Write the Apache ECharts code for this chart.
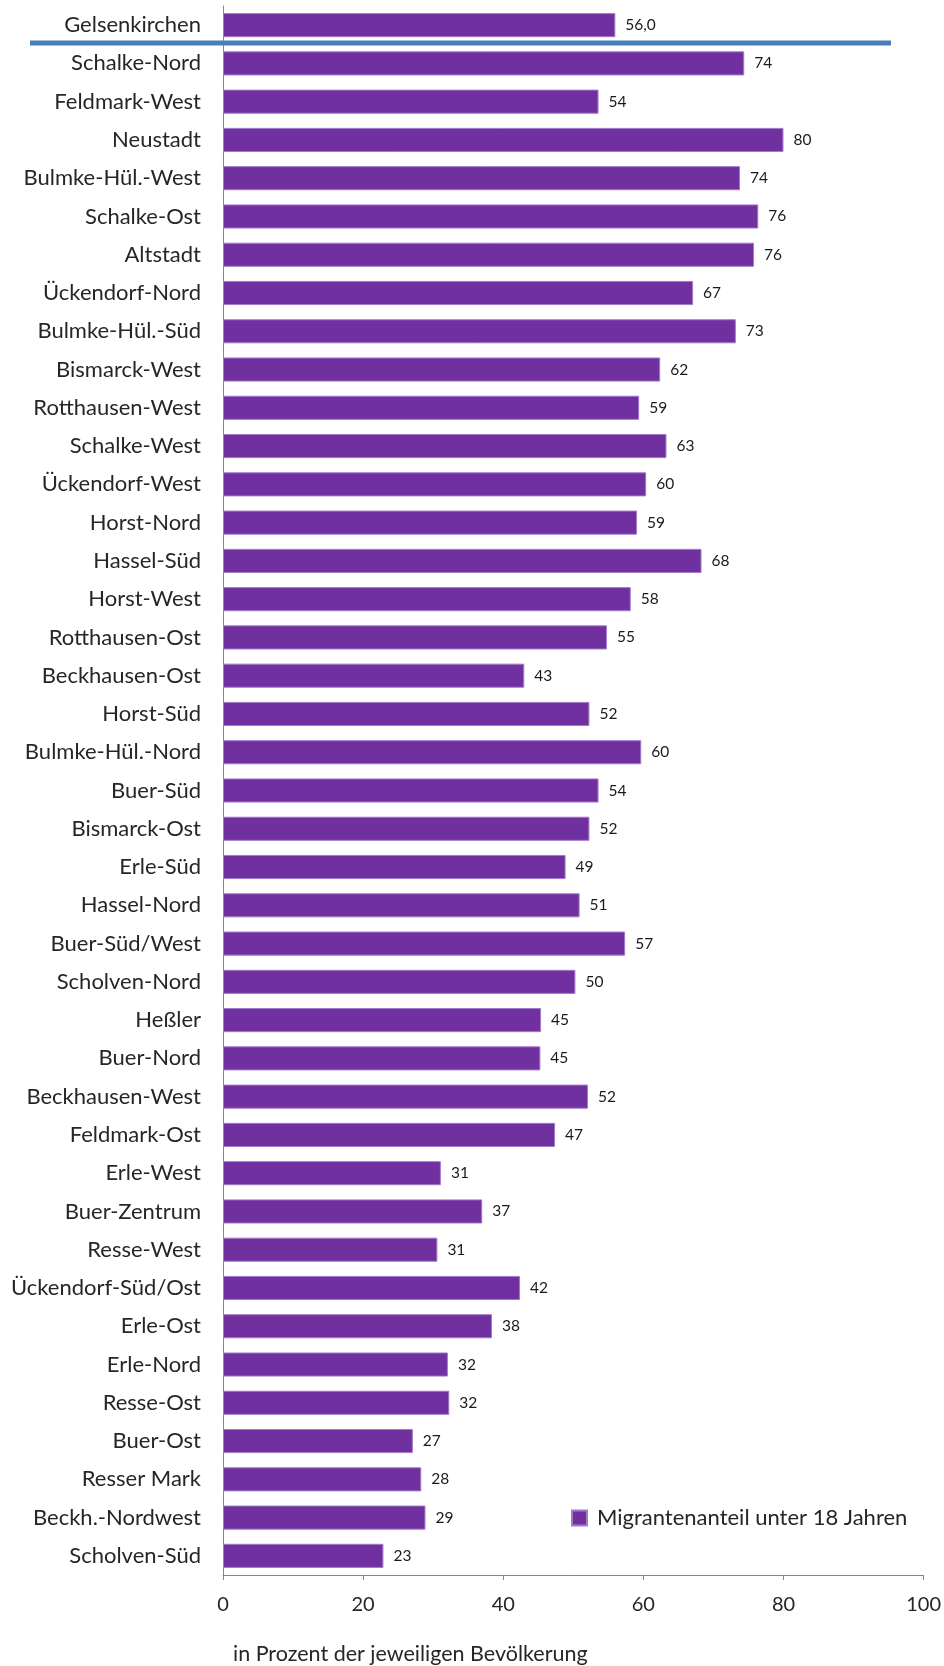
<!DOCTYPE html>
<html><head><meta charset="utf-8">
<script src="https://cdn.jsdelivr.net/npm/echarts@6/dist/echarts.min.js"></script>
<style>html,body{margin:0;padding:0;background:#fff}#c{width:944px;height:1666px}</style>
</head><body><div id="c"></div>
<script>
var categories = ["Gelsenkirchen","Schalke-Nord","Feldmark-West","Neustadt","Bulmke-Hül.-West","Schalke-Ost","Altstadt","Ückendorf-Nord","Bulmke-Hül.-Süd","Bismarck-West","Rotthausen-West","Schalke-West","Ückendorf-West","Horst-Nord","Hassel-Süd","Horst-West","Rotthausen-Ost","Beckhausen-Ost","Horst-Süd","Bulmke-Hül.-Nord","Buer-Süd","Bismarck-Ost","Erle-Süd","Hassel-Nord","Buer-Süd/West","Scholven-Nord","Heßler","Buer-Nord","Beckhausen-West","Feldmark-Ost","Erle-West","Buer-Zentrum","Resse-West","Ückendorf-Süd/Ost","Erle-Ost","Erle-Nord","Resse-Ost","Buer-Ost","Resser Mark","Beckh.-Nordwest","Scholven-Süd"];
var values = [56.0,74.4,53.6,80.0,73.8,76.4,75.8,67.1,73.2,62.4,59.4,63.3,60.4,59.1,68.3,58.2,54.8,43.0,52.3,59.7,53.6,52.3,48.9,50.9,57.4,50.3,45.4,45.3,52.1,47.4,31.1,37.0,30.6,42.4,38.4,32.1,32.3,27.1,28.3,28.9,22.9];
var xTicks = [0,20,40,60,80,100];
var seriesName = "Migrantenanteil unter 18 Jahren";
var axisTitle = "in Prozent der jeweiligen Bevölkerung";

var FONT = "Lato";
var chart = echarts.init(document.getElementById('c'), null, {renderer:'canvas'});
chart.setOption({
  animation:false,
  backgroundColor:'#fff',
  textStyle:{fontFamily:FONT},
  grid:{left:223,right:19,top:6,bottom:91,containLabel:false},
  legend:{
    data:[seriesName], left:566, top:1502, itemWidth:15, itemHeight:15, itemGap:8,
    icon:'rect',
    textStyle:{fontFamily:FONT,fontSize:22,color:'#262626',padding:[0,0,0,5]}
  },
  title:{text:axisTitle,left:228,top:1638,textStyle:{fontFamily:FONT,fontSize:21.5,fontWeight:'normal',color:'#262626'}},
  xAxis:{
    type:'value', min:xTicks[0], max:xTicks[xTicks.length-1], interval:20,
    axisLine:{show:true,lineStyle:{color:'#868686',width:1}},
    axisTick:{show:true,length:5,lineStyle:{color:'#868686'}},
    splitLine:{show:false},
    axisLabel:{fontFamily:FONT,fontSize:20,color:'#262626',margin:20}
  },
  yAxis:{
    type:'category', inverse:true, data:categories,
    axisLine:{show:true,lineStyle:{color:'#868686',width:1}},
    axisTick:{show:false},
    axisLabel:{fontFamily:FONT,fontSize:22,color:'#262626',margin:22}
  },
  series:[{
    name:seriesName, type:'bar', data:values, barCategoryGap:'37%',
    itemStyle:{color:'#7030A0',borderColor:'#A27BCB',borderWidth:1},
    label:{show:true,position:'right',distance:10,fontFamily:FONT,fontSize:15.5,color:'#1a1a1a',
      formatter:function(p){return p.dataIndex===0 ? p.value.toFixed(1).replace('.',',') : String(Math.round(p.value));}}
  }],
  graphic:[{type:'line',shape:{x1:30,y1:43,x2:891,y2:43},style:{stroke:'#4A7EBB',lineWidth:5},z:100}]
});
</script></body></html>
